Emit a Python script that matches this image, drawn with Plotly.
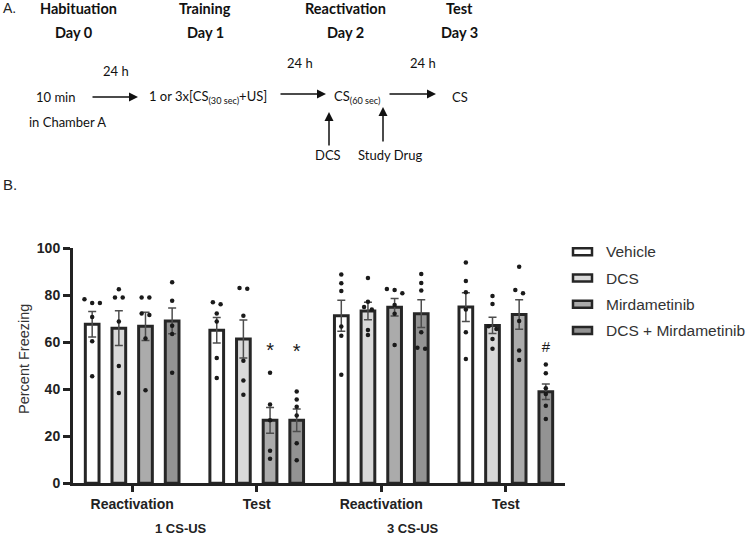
import plotly.graph_objects as go

# ---- data ----
phases = ["Reactivation", "Test", "Reactivation", "Test"]
protocols = ["1 CS-US", "3 CS-US"]
series = ["Vehicle", "DCS", "Mirdametinib", "DCS + Mirdametinib"]

mean_vehicle = [67.7, 65.1, 71.3, 75.0]
mean_dcs = [66.0, 61.4, 73.3, 67.2]
mean_mird = [66.8, 26.8, 74.9, 71.8]
mean_combo = [69.1, 26.8, 72.2, 39.0]

sem_vehicle = [5.4, 5.4, 6.6, 6.1]
sem_dcs = [7.4, 8.1, 3.7, 3.5]
sem_mird = [6.0, 5.5, 3.7, 6.3]
sem_combo = [5.5, 4.8, 5.9, 3.3]

pts_vehicle = [[78.3, 76.7, 76.7, 70.8, 60.4, 45.5],
               [77.0, 76.2, 72.3, 68.8, 53.3, 44.8],
               [88.8, 85.1, 81.8, 66.7, 62.8, 46.2],
               [94.0, 86.1, 81.3, 74.0, 64.3, 52.9]]
pts_dcs = [[82.6, 79.1, 79.1, 68.8, 49.9, 38.4],
           [83.1, 82.8, 71.3, 52.2, 43.7, 37.7],
           [87.4, 77.3, 75.0, 74.0, 65.2, 63.1],
           [79.7, 76.3, 66.8, 65.7, 61.4, 57.3]]
pts_mird = [[79.1, 79.1, 72.3, 71.6, 61.6, 39.6],
            [47.0, 33.5, 26.8, 13.8, 10.5],
            [82.7, 82.3, 80.9, 75.9, 72.1, 58.9],
            [92.1, 82.3, 80.9, 69.1, 56.5, 52.5]]
pts_combo = [[85.5, 77.7, 67.0, 63.5, 47.0],
             [39.1, 35.7, 32.6, 28.9, 17.0, 9.8],
             [89.1, 85.2, 82.0, 64.3, 57.7, 57.3],
             [50.6, 46.8, 40.4, 38.0, 33.0, 27.4]]

# significance marks: symbol, phase index, series index, y level
sig_text = ["*", "*", "#"]
sig_phase = [1, 1, 3]
sig_series = [2, 3, 3]
sig_y = [56.0, 55.4, 57.6]

means = [mean_vehicle, mean_dcs, mean_mird, mean_combo]
sems = [sem_vehicle, sem_dcs, sem_mird, sem_combo]
points = [pts_vehicle, pts_dcs, pts_mird, pts_combo]

fills = ["#ffffff", "#d9d9d9", "#ababab", "#939393"]
EDGE = "#262626"

# ---- geometry helpers ----
W, H = 750, 536
def px(x):
    return x / W
def py(y):
    return 1 - y / H

SLOT = 0.214   # distance between bars inside a group
BARW = 0.11
SPREAD = 0.062

def swarm(vals, thr=2.0):
    # spread points sideways when they sit at nearly the same height
    order = sorted(range(len(vals)), key=lambda i: -vals[i])
    offs = [0.0] * len(vals)
    cluster = [order[0]]
    def flush(c):
        n = len(c)
        for j, i in enumerate(c):
            offs[i] = (j - (n - 1) / 2) * SPREAD
    for i in order[1:]:
        if vals[cluster[-1]] - vals[i] < thr:
            cluster.append(i)
        else:
            flush(cluster)
            cluster = [i]
    flush(cluster)
    return offs

fig = go.Figure()

for k, name in enumerate(series):
    xs = [g + (k - 1.5) * SLOT for g in range(len(phases))]
    fig.add_trace(go.Bar(
        x=xs, y=means[k], width=BARW, name=name, showlegend=False,
        marker=dict(color=fills[k], line=dict(color=EDGE, width=3)),
        error_y=dict(type="data", array=sems[k], color="#4d4d4d",
                     thickness=1.5, width=4),
    ))

for k in range(len(series)):
    dx, dy = [], []
    for g, vals in enumerate(points[k]):
        offs = swarm(vals)
        for v, o in zip(vals, offs):
            dx.append(g + (k - 1.5) * SLOT + o)
            dy.append(v)
    fig.add_trace(go.Scatter(
        x=dx, y=dy, mode="markers", showlegend=False, hoverinfo="skip",
        marker=dict(size=4.5, color="#1a1a1a"),
    ))

fig.add_trace(go.Scatter(
    x=[p + (s - 1.5) * SLOT for p, s in zip(sig_phase, sig_series)],
    y=sig_y, mode="text", text=sig_text, showlegend=False, hoverinfo="skip",
    textfont=dict(family="Liberation Sans", size=[20, 20, 15], color="#1a1a1a"),
))

ann = []
shapes = []

def note(s, x, y, size, family="Liberation Sans", color="#222", bold=False,
         xanchor="center", angle=0):
    ann.append(dict(x=px(x), y=py(y), xref="paper", yref="paper", text=s,
                    showarrow=False, xanchor=xanchor, yanchor="middle", textangle=angle,
                    font=dict(family=family, size=size, color=color,
                              weight="bold" if bold else "normal")))

# x-axis group labels
for lab, xc in zip(protocols, [181, 413]):
    note(lab, xc, 528, 13, bold=True)

note("Percent Freezing", 24, 359, 14.5, color="#333", angle=-90)

# legend drawn by hand (wide flat swatches)
for i, name in enumerate(series):
    yc = 251.7 + 26.3 * i
    shapes.append(dict(type="rect", xref="paper", yref="paper",
                       x0=px(573), x1=px(592), y0=py(yc + 3.5), y1=py(yc - 3.5),
                       fillcolor=fills[i], line=dict(color=EDGE, width=2.5)))
    note(name, 604, yc, 15.5, color="#333", xanchor="left")

# ---- panel A: protocol timeline ----
DF = "Lato"

def arrow(x0, y0, x1, y1):
    ann.append(dict(x=px(x1), y=py(y1), xref="paper", yref="paper", text="",
                    ax=x0 - x1, ay=y0 - y1, axref="pixel", ayref="pixel",
                    showarrow=True, arrowhead=2, arrowsize=1.2, arrowwidth=1.5,
                    arrowcolor="#111", standoff=0))

for head, day, xc in [("Habituation", "Day 0", 78), ("Training", "Day 1", 205),
                      ("Reactivation", "Day 2", 345), ("Test", "Day 3", 459)]:
    note(head, xc, 9, 14.5, DF, "#111", True)
    note(day, xc if day != "Day 0" else 74, 33, 14.5, DF, "#111", True)

note("24 h", 116, 71, 13, DF, "#111")
note("24 h", 300, 63, 13, DF, "#111")
note("24 h", 423, 63, 13, DF, "#111")
note("10 min", 55, 97, 13, DF, "#111")
note("in Chamber A", 67, 122, 13, DF, "#111")
note("1 or 3x[CS<sub>(30 sec)</sub>+US]", 208, 97, 13, DF, "#111")
note("CS<sub>(60 sec)</sub>", 357, 97, 13, DF, "#111")
note("CS", 460, 97, 13, DF, "#111")
note("DCS", 328, 155, 13, DF, "#111")
note("Study Drug", 390, 155, 13, DF, "#111")
arrow(91, 97, 138, 97)
arrow(279, 94, 326, 94)
arrow(388, 94, 436, 94)
arrow(329, 147, 329, 112)
arrow(383, 143, 383, 107)

note("A.", 1, 8, 14, xanchor="left")
note("B.", 1, 184, 15, xanchor="left")

fig.update_layout(
    width=W, height=H, margin=dict(l=0, r=0, t=0, b=0, pad=0, autoexpand=False),
    template="none",
    paper_bgcolor="white", plot_bgcolor="white",
    barmode="overlay", annotations=ann, shapes=shapes, showlegend=False,
    xaxis=dict(domain=[px(73), px(565)], range=[-0.475, 3.475], automargin=False,
               tickvals=list(range(len(phases))), ticktext=phases,
               showline=True, linewidth=3, linecolor="#222", showgrid=False, zeroline=False,
               ticks="outside", ticklen=6, tickwidth=3, tickcolor="#222",
               tickfont=dict(family="Liberation Sans", size=14, color="#222", weight="bold")),
    yaxis=dict(domain=[py(483.3), py(248.3)], range=[0, 100], automargin=False,
               tickvals=[0, 20, 40, 60, 80, 100],
               showline=True, linewidth=3, linecolor="#222", showgrid=False, zeroline=False,
               ticks="outside", ticklen=7, tickwidth=3, tickcolor="#222",
               tickfont=dict(family="Liberation Sans", size=14, color="#222", weight="bold")),
)

# drop the default page margin so the figure sits at the window corner
fig.write_html("out.html", config={"displayModeBar": False},
               post_script="document.body.style.margin = '0px';")
